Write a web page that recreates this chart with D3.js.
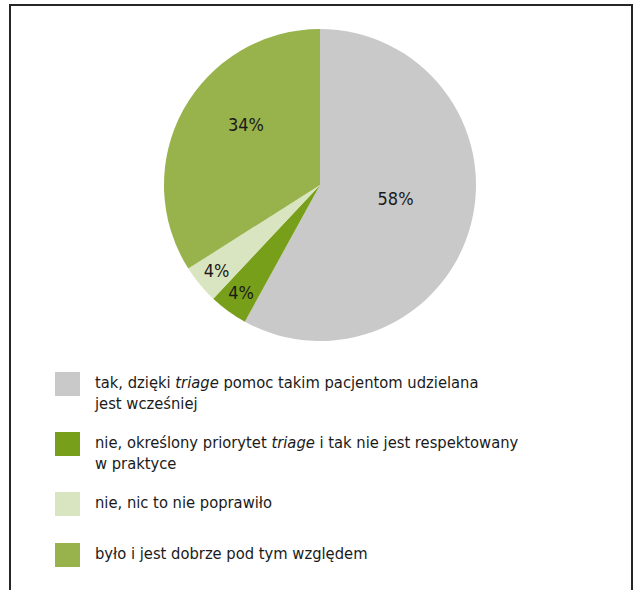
<!DOCTYPE html>
<html>
<head>
<meta charset="utf-8">
<script src="https://cdn.jsdelivr.net/npm/d3@7"></script>
<style>
  html, body { margin: 0; padding: 0; background: #fff; }
  svg { display: block; }
  text { font-family: "DejaVu Sans Condensed", "Liberation Sans", sans-serif; fill: #1a1a1a; }
</style>
</head>
<body>
<svg id="chart" width="635" height="590"></svg>
<script>
// Survey answers, in clockwise order starting at 12 o'clock
const categories = [
  ["tak, dzięki ", {i: "triage"}, " pomoc takim pacjentom udzielana", "\n", "jest wcześniej"],
  ["nie, określony priorytet ", {i: "triage"}, " i tak nie jest respektowany", "\n", "w praktyce"],
  ["nie, nic to nie poprawiło"],
  ["było i jest dobrze pod tym względem"]
];
const values = [58, 4, 4, 34];
const valueLabels = ["58%", "4%", "4%", "34%"];
const colors = ["#c8c9c8", "#779f19", "#d9e4c1", "#98b24c"];

// label placement (fraction of radius) and small nudges
const labelRadius = [0.5, 0.86, 0.86, 0.6];
const labelNudge = [[0, -6], [0, -1], [0, 0], [8, -15]];

const svg = d3.select("#chart");

// frame lines (open at the bottom)
svg.append("path")
  .attr("d", "M10,590 V5 H632 V590")
  .attr("fill", "none")
  .attr("stroke", "#262626")
  .attr("stroke-width", 2);

const cx = 320, cy = 185, R = 156;
const g = svg.append("g").attr("transform", `translate(${cx},${cy})`);

const pie = d3.pie().sort(null).value(d => d)(values);
const arc = d3.arc().innerRadius(0).outerRadius(R);

g.selectAll("path.slice")
  .data(pie)
  .join("path")
  .attr("class", "slice")
  .attr("d", arc)
  .attr("fill", (d, i) => colors[i]);

g.selectAll("text.val")
  .data(pie)
  .join("text")
  .attr("class", "val")
  .attr("text-anchor", "middle")
  .attr("dy", "0.35em")
  .attr("font-size", 18)
  .attr("transform", (d, i) => {
    const a = (d.startAngle + d.endAngle) / 2;
    const r = R * labelRadius[i];
    const x = Math.sin(a) * r + labelNudge[i][0];
    const y = -Math.cos(a) * r + labelNudge[i][1];
    return `translate(${x},${y})`;
  })
  .text((d, i) => valueLabels[i]);

// legend
const legendTop = [372, 432, 492, 543];
const legend = svg.append("g");
categories.forEach((parts, i) => {
  const row = legend.append("g").attr("transform", `translate(55,${legendTop[i]})`);
  row.append("rect")
    .attr("width", 25).attr("height", 24)
    .attr("fill", colors[i]);
  const t = row.append("text")
    .attr("x", 40)
    .attr("y", 16)
    .attr("font-size", 16.4);
  let line = 0;
  let first = true;
  parts.forEach(p => {
    if (p === "\n") { line++; first = true; return; }
    const ts = t.append("tspan").text(typeof p === "string" ? p : p.i).attr("xml:space", "preserve");
    if (first) { ts.attr("x", 40).attr("dy", line === 0 ? 0 : 21); first = false; }
    if (typeof p !== "string") ts.attr("font-style", "italic");
  });
});
</script>
</body>
</html>
